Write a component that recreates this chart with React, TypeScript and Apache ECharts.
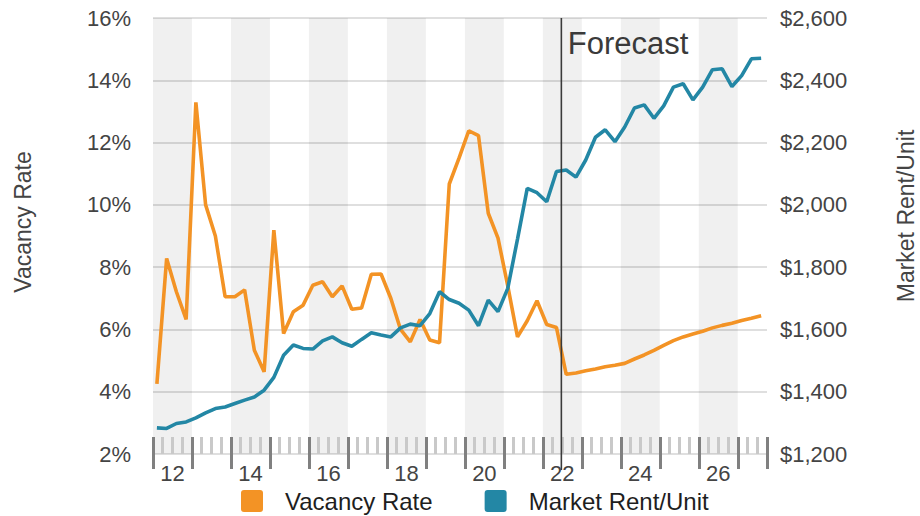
import React, { useEffect, useRef } from 'react';
import * as echarts from 'echarts';

// Quarterly data, 2012 Q1 .. 2027 Q3
const firstYear = 2012;
const yearLabels = ['12', '14', '16', '18', '20', '22', '24', '26'];
const shadedYears = [2012, 2014, 2016, 2018, 2020, 2022, 2024, 2026];

const vacancyRate = [
  4.25, 8.28, 7.21, 6.32, 13.29, 10.0, 9.0, 7.05,
  7.05, 7.27, 5.33, 4.64, 9.19, 5.87, 6.57, 6.78,
  7.42, 7.53, 7.05, 7.4, 6.65, 6.69, 7.77, 7.78,
  7.0, 6.0, 5.6, 6.32, 5.66, 5.57, 10.67, 11.5,
  12.38, 12.22, 9.73, 8.93, 7.4, 5.76, 6.28, 6.92,
  6.16, 6.06, 4.56, 4.6, 4.67, 4.73, 4.8, 4.85,
  4.91, 5.05, 5.18, 5.33, 5.49, 5.64, 5.76, 5.85,
  5.94, 6.05, 6.13, 6.2, 6.29, 6.36, 6.44,
];

const marketRent = [
  1284, 1282, 1298, 1303, 1316, 1332, 1346, 1351,
  1362, 1373, 1383, 1405, 1446, 1517, 1550, 1539,
  1537, 1563, 1576, 1557, 1546, 1568, 1589, 1582,
  1576, 1605, 1617, 1612, 1651, 1721, 1696, 1684,
  1662, 1612, 1694, 1657, 1732, 1890, 2053, 2039,
  2010, 2107, 2112, 2089, 2144, 2217, 2241, 2203,
  2250, 2311, 2321, 2278, 2318, 2378, 2389, 2337,
  2378, 2434, 2437, 2380, 2415, 2469, 2471,
];

const forecastStart = 41.9; // in quarters since 2012 Q1

const ORANGE = '#F39325';
const BLUE = '#2387A5';
const FONT = "'Liberation Sans', Arial, Helvetica, sans-serif";
const SQUARE_ICON = 'path://M3,0 H19 Q22,0 22,3 V19 Q22,22 19,22 H3 Q0,22 0,19 V3 Q0,0 3,0 Z';

export default function App() {
  const ref = useRef<HTMLDivElement>(null);

  useEffect(() => {
    document.body.style.margin = '0';
    const chart = echarts.init(ref.current as HTMLDivElement, null, { renderer: 'svg' });

    const nQuarters = 63;
    const pointOffset = 0.4;
    const toXY = (arr: number[]) => arr.map((v, i) => [i + pointOffset, v]);

    const baseX: any = {
      type: 'value',
      min: 0,
      max: nQuarters,
      gridIndex: 0,
      position: 'bottom',
      axisLine: { show: false },
      splitLine: { show: false },
      axisLabel: { show: false },
      z: 3,
    };

    const axisNames: any[] = [
      {
        type: 'text',
        x: 23,
        y: 222,
        rotation: Math.PI / 2,
        style: { text: 'Vacancy Rate', fontSize: 23, fill: '#444', align: 'center', verticalAlign: 'middle', fontFamily: FONT },
      },
      {
        type: 'text',
        x: 906,
        y: 216,
        rotation: Math.PI / 2,
        style: { text: 'Market Rent/Unit', fontSize: 23, fill: '#444', align: 'center', verticalAlign: 'middle', fontFamily: FONT },
      },
    ];

    const option: any = {
      animation: false,
      grid: { left: 153, right: 153, top: 18, bottom: 62, containLabel: false },
      xAxis: [
        { ...baseX, interval: 1, axisTick: { show: true, inside: true, length: 17, lineStyle: { color: '#c9c9c9', width: 3 } } },
        { ...baseX, interval: 4, axisTick: { show: true, inside: true, length: 17, lineStyle: { color: '#808080', width: 3 } } },
        { ...baseX, interval: 4, axisTick: { show: true, inside: false, length: 15, lineStyle: { color: '#808080', width: 3 } } },
        {
          ...baseX,
          interval: 2,
          axisTick: { show: false },
          axisLabel: {
            show: true,
            margin: 8,
            fontSize: 22,
            color: '#444',
            fontFamily: FONT,
            formatter: (v: number) => {
              if (v >= 2 && (v - 2) % 8 === 0) {
                const idx = (v - 2) / 8;
                return yearLabels[idx] ?? '';
              }
              return '';
            },
          },
        },
      ],
      yAxis: [
        {
          type: 'value',
          min: 2,
          max: 16,
          interval: 2,
          position: 'left',
          z: 1,
          axisLine: { show: false },
          axisTick: { show: false },
          splitLine: { show: true, lineStyle: { color: '#d4d4d4', width: 1.5 } },
          axisLabel: { formatter: '{value}%', fontSize: 22, color: '#444', margin: 22, fontFamily: FONT },
        },
        {
          type: 'value',
          min: 1200,
          max: 2600,
          interval: 200,
          position: 'right',
          axisLine: { show: false },
          axisTick: { show: false },
          splitLine: { show: false },
          axisLabel: {
            formatter: (v: number) => '$' + v.toLocaleString('en-US'),
            fontSize: 22,
            color: '#444',
            margin: 13,
            fontFamily: FONT,
          },
        },
      ],
      legend: {
        left: 241,
        top: 489,
        padding: 0,
        itemWidth: 22,
        itemHeight: 22,
        itemGap: 52,
        icon: SQUARE_ICON,
        textStyle: { fontSize: 24, color: '#1e1e1e', fontFamily: FONT, padding: [0, 0, 0, 17] },
        data: ['Vacancy Rate', 'Market Rent/Unit'],
      },
      graphic: axisNames,
      series: [
        {
          type: 'line',
          data: [],
          xAxisIndex: 0,
          yAxisIndex: 0,
          silent: true,
          markArea: {
            silent: true,
            itemStyle: { color: 'rgba(0,0,0,0.058)' },
            data: shadedYears.map((y) => [
              { xAxis: (y - firstYear) * 4 },
              { xAxis: (y - firstYear) * 4 + 4 },
            ]),
          },
        },
        {
          name: 'Vacancy Rate',
          type: 'line',
          xAxisIndex: 0,
          yAxisIndex: 0,
          data: toXY(vacancyRate),
          showSymbol: false,
          lineStyle: { color: ORANGE, width: 3.6 },
          itemStyle: { color: ORANGE },
          markPoint: {
            silent: true,
            data: [
              {
                coord: [forecastStart, 15.17],
                symbol: 'circle',
                symbolSize: 1,
                itemStyle: { color: 'rgba(0,0,0,0)' },
                label: {
                  show: true,
                  position: 'right',
                  distance: 6,
                  formatter: 'Forecast',
                  fontSize: 31,
                  color: '#3a3a3a',
                  fontFamily: FONT,
                },
              },
            ],
          },
        },
        {
          name: 'Market Rent/Unit',
          type: 'line',
          xAxisIndex: 0,
          yAxisIndex: 1,
          data: toXY(marketRent),
          showSymbol: false,
          lineStyle: { color: BLUE, width: 3.6 },
          itemStyle: { color: BLUE },
        },
      ],
    };

    chart.setOption(option);

    // Forecast divider: computed through the chart's own scales
    const fx = chart.convertToPixel({ xAxisIndex: 0 }, forecastStart) as number;
    const fTop = chart.convertToPixel({ yAxisIndex: 0 }, 16) as number;
    const fBottom = (chart.convertToPixel({ yAxisIndex: 0 }, 2) as number) + 16;
    chart.setOption({
      graphic: [
        ...axisNames,
        {
          type: 'line',
          z: 10,
          silent: true,
          shape: { x1: fx, y1: fTop, x2: fx, y2: fBottom },
          style: { stroke: '#3a3a3a', lineWidth: 1.6 },
        },
      ],
    });

    return () => chart.dispose();
  }, []);

  return (
    <div
      ref={ref}
      style={{ position: 'absolute', left: 0, top: 0, width: 920, height: 516 }}
    />
  );
}
